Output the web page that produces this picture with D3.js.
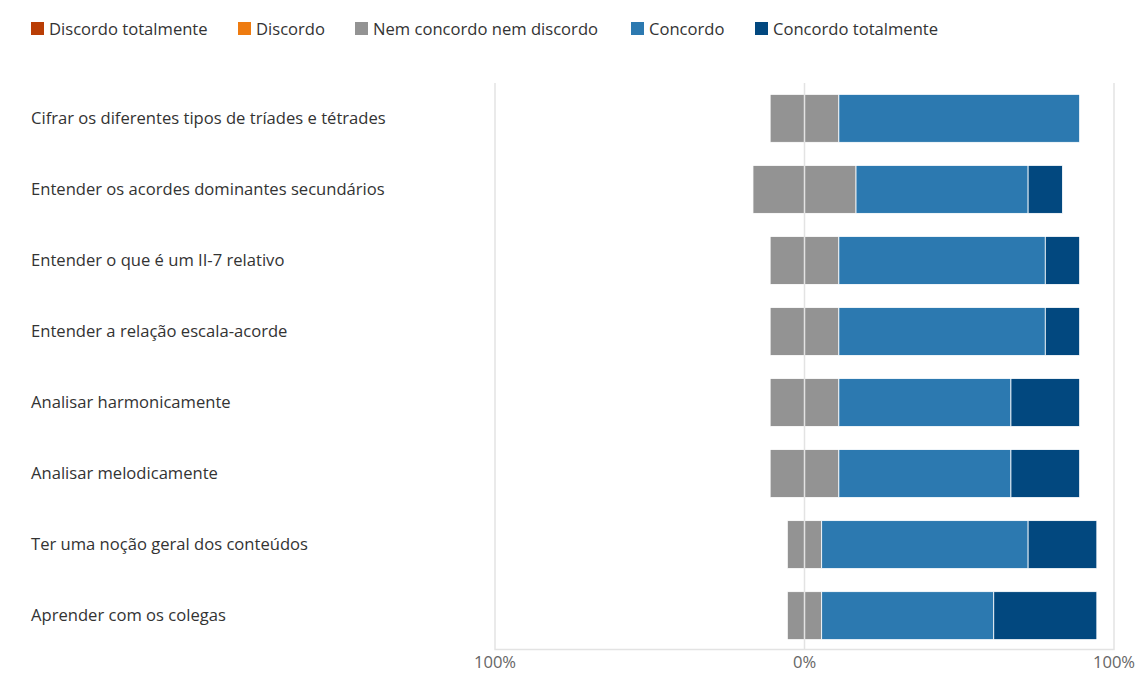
<!DOCTYPE html>
<html>
<head>
<meta charset="utf-8">
<script src="https://cdn.jsdelivr.net/npm/d3@7"></script>
<style>
  body { margin: 0; background: #fff; }
  svg { font-family: "Segoe UI", "Open Sans", "Noto Sans", sans-serif; }
</style>
</head>
<body>
<div id="chart"></div>
<script>
const w = 1137, h = 674;

const categories = [
  "Cifrar os diferentes tipos de tríades e tétrades",
  "Entender os acordes dominantes secundários",
  "Entender o que é um II-7 relativo",
  "Entender a relação escala-acorde",
  "Analisar harmonicamente",
  "Analisar melodicamente",
  "Ter uma noção geral dos conteúdos",
  "Aprender com os colegas"
];
const series = ["Discordo totalmente","Discordo","Nem concordo nem discordo","Concordo","Concordo totalmente"];
const colors = ["#b93d05","#ee7b10","#939393","#2c79b0","#02487f"];

// percentages per category
const discTot = [0,0,0,0,0,0,0,0];
const disc    = [0,0,0,0,0,0,0,0];
const neutro  = [22.2,33.3,22.2,22.2,22.2,22.2,11.1,11.1];
const conc    = [77.8,55.6,66.7,66.7,55.6,55.6,66.7,55.6];
const concTot = [0,11.1,11.1,11.1,22.2,22.2,22.2,33.3];

const xTicks = [-100, 0, 100];

const svg = d3.select("#chart").append("svg")
  .attr("width", w).attr("height", h)
  .attr("viewBox", "0 0 " + w + " " + h);

const x = d3.scaleLinear().domain([-100, 100]).range([495, 1114]);
const y = d3.scaleBand().domain(categories).range([83, 651]).paddingInner(0.325).paddingOuter(0.16);

// frame
const fr = svg.append("g").attr("stroke", "#e3e3e3").attr("stroke-width", 1.5).attr("fill", "none");
fr.append("path").attr("d", `M${x(-100)},83V649.5H${x(100)}V83`);

// stacked segments: left part = discTot + disc + neutro/2
const rows = categories.map((c, i) => {
  const vals = [discTot[i], disc[i], neutro[i], conc[i], concTot[i]];
  let start = -(discTot[i] + disc[i] + neutro[i] / 2);
  return vals.map((v, k) => {
    const s = { cat: c, k, x0: start, x1: start + v };
    start += v;
    return s;
  }).filter(d => d.x1 > d.x0);
});

svg.append("g").selectAll("g").data(rows).join("g")
  .selectAll("rect").data(d => d).join("rect")
  .attr("x", d => x(d.x0))
  .attr("width", d => x(d.x1) - x(d.x0))
  .attr("y", d => y(d.cat))
  .attr("height", y.bandwidth())
  .attr("fill", d => colors[d.k])
  .attr("stroke", "#fff")
  .attr("stroke-width", 0.8);

// zero line over bars
svg.append("line").attr("x1", x(0)).attr("x2", x(0)).attr("y1", 83).attr("y2", 649.5)
  .attr("stroke", "#e3e3e3").attr("stroke-width", 1.5);

// category labels
svg.append("g").selectAll("text").data(categories).join("text")
  .attr("x", 31)
  .attr("y", d => y(d) + y.bandwidth() / 2)
  .attr("dy", "0.35em")
  .attr("font-size", 16.6)
  .attr("fill", "#333")
  .text(d => d);

// x axis labels
svg.append("g").selectAll("text").data(xTicks).join("text")
  .attr("x", d => x(d))
  .attr("y", 668)
  .attr("text-anchor", "middle")
  .attr("font-size", 16.6)
  .attr("fill", "#666")
  .text(d => Math.abs(d) + "%");

// legend
const legX = [31, 238, 355, 631, 755];
const leg = svg.append("g").selectAll("g").data(series).join("g")
  .attr("transform", (d, i) => `translate(${legX[i]},22)`);
leg.append("rect").attr("width", 13).attr("height", 13).attr("fill", (d, i) => colors[i]);
leg.append("text").attr("x", 18).attr("y", 7).attr("dy", "0.35em")
  .attr("font-size", 16.6).attr("fill", "#333").text(d => d);
</script>
</body>
</html>
